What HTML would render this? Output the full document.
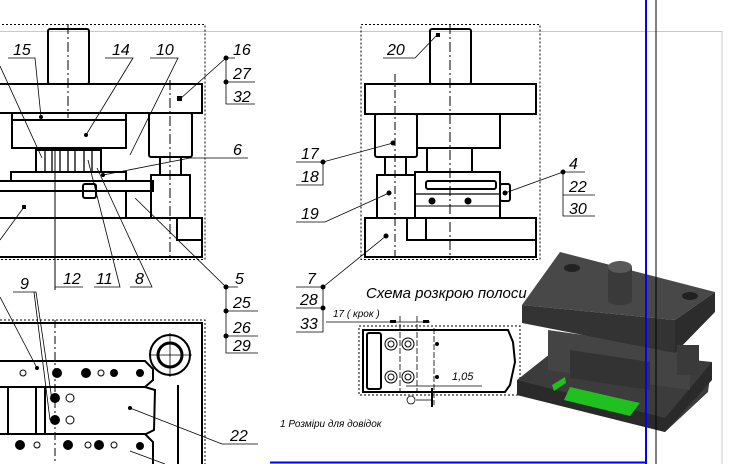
<!DOCTYPE html>
<html><head><meta charset="utf-8"><style>
html,body{margin:0;padding:0;background:#fff;}
svg{display:block;}
text{font-family:"Liberation Sans","DejaVu Sans",sans-serif;font-style:italic;fill:#000;}
</style></head><body>
<svg width="738" height="464" viewBox="0 0 738 464" xmlns="http://www.w3.org/2000/svg">
<rect width="738" height="464" fill="#fff"/>
<!-- sheet gray lines -->
<line x1="0" y1="31.5" x2="722" y2="31.5" stroke="#c8c8c8" stroke-width="1"/>
<line x1="722" y1="31" x2="722" y2="464" stroke="#c8c8c8" stroke-width="1"/>

<g fill="none" stroke="#000">
<!-- LEFT VIEW -->
<rect x="-2" y="24.5" width="207" height="235" stroke-width="1" stroke-dasharray="2,2"/>
<g stroke-width="2">
<rect x="48" y="29" width="41" height="55" rx="2"/>
<rect x="-2" y="84" width="204" height="29"/>
<rect x="12" y="113" width="114" height="35"/>
<line x1="12" y1="120" x2="126" y2="120"/>
<rect x="36" y="150" width="65" height="22"/>
<rect x="149" y="113" width="43" height="44" rx="2"/>
<line x1="160" y1="157" x2="160" y2="175"/><line x1="181" y1="157" x2="181" y2="175"/>
<rect x="11" y="172" width="115" height="9"/>
<rect x="-2" y="181" width="155" height="10"/>
<rect x="-2" y="191" width="128" height="27"/>
<rect x="151" y="175" width="39" height="43"/>
<rect x="-2" y="218" width="204" height="39"/>
<rect x="177" y="218" width="25" height="22"/>
<rect x="83" y="184" width="13" height="14" rx="2"/>
</g>
<g stroke-width="1.3">
<line x1="45" y1="150" x2="45" y2="172"/><line x1="52" y1="150" x2="52" y2="172"/>
<line x1="60" y1="150" x2="60" y2="172"/><line x1="68" y1="150" x2="68" y2="172"/>
<line x1="75" y1="150" x2="75" y2="172"/><line x1="84" y1="150" x2="84" y2="172"/>
<line x1="92" y1="150" x2="92" y2="172"/>
</g>
<line x1="68" y1="24" x2="68" y2="118" stroke-width="1" stroke-dasharray="10,3,2,3"/>
<line x1="170" y1="80" x2="170" y2="260" stroke-width="1" stroke-dasharray="10,3,2,3"/>
<line x1="55" y1="150" x2="55" y2="290" stroke-width="1"/>

<!-- left leaders -->
<g stroke-width="0.8">
<polyline points="8,58 35,58 41,117"/>
<polyline points="105,58 133,58 86,135"/>
<polyline points="150,58 178,58 130,155"/>
<line x1="0" y1="66" x2="42" y2="158"/>
<polyline points="248,158 190,158 103,175"/>
<polyline points="55,287 83,287"/>
<polyline points="94,287 120,287 88,160"/>
<polyline points="130,287 152,287 97,168"/>
<polyline points="235,58 226,58 226,104 255,104"/><line x1="226" y1="82" x2="255" y2="82"/><line x1="226" y1="58" x2="180" y2="99"/>
<line x1="226" y1="287" x2="135" y2="198"/>
<polyline points="238,287 226,287 226,353 258,353"/><line x1="226" y1="311" x2="258" y2="311"/><line x1="226" y1="336" x2="258" y2="336"/>
<line x1="0" y1="240" x2="24" y2="207"/>
<polyline points="13,292 36,292 52,400"/><line x1="34" y1="292" x2="50" y2="420"/>
<line x1="0" y1="297" x2="37" y2="368"/>
<polyline points="258,444 222,444 130,408"/>
<line x1="130" y1="451" x2="165" y2="464"/>
</g>
<g fill="#000" stroke="none">
<circle cx="226" cy="58" r="2.5"/><circle cx="226" cy="82" r="2.5"/>
<circle cx="226" cy="287" r="2.5"/><circle cx="226" cy="311" r="2.5"/><circle cx="226" cy="336" r="2.5"/>
<rect x="177" y="96" width="5" height="5"/><circle cx="86" cy="135" r="2"/><circle cx="41" cy="117" r="2"/>
<circle cx="103" cy="175" r="2"/><rect x="22" y="205" width="4" height="4"/>
<circle cx="130" cy="408" r="2"/><circle cx="37" cy="368" r="2"/>
</g>

<!-- bottom-left plan -->
<polyline points="0,320 205,320 205,464" stroke-width="1" stroke-dasharray="2,2"/>
<polyline points="-2,323 202,323 202,464" stroke-width="2"/>
<circle cx="170" cy="355" r="20" stroke-width="2"/>
<circle cx="170" cy="355" r="12" stroke-width="3"/>
<line x1="150" y1="355" x2="192" y2="355" stroke-width="0.8"/><line x1="170" y1="333" x2="170" y2="377" stroke-width="0.8"/>
<g stroke-width="2">
<polyline points="-2,361 145,361 153,369 153,380 145,387 -2,387"/>
<polyline points="-2,387 -2,387"/>
<polyline points="0,184 0,184"/>
<polyline points="-2,434 145,434 153,442 153,464"/>
<polyline points="36,387 36,434"/><polyline points="45,387 45,434"/>
<line x1="8" y1="387" x2="8" y2="434"/>
<polyline points="178,464 178,385 Q178,370 195,365 202,365"/>
<polyline points="145,387 155,390 154,430 146,434"/>
</g>
<line x1="55" y1="320" x2="55" y2="464" stroke-width="1" stroke-dasharray="8,3,2,3"/>
<g fill="#000" stroke="none">
<circle cx="57" cy="373" r="5"/><circle cx="86" cy="373" r="5"/><circle cx="114" cy="373" r="4"/><circle cx="140" cy="373" r="4"/>
<circle cx="55" cy="398" r="5"/><circle cx="55" cy="420" r="5"/>
<circle cx="20" cy="445" r="5"/><circle cx="68" cy="445" r="5"/><circle cx="99" cy="445" r="5"/><circle cx="140" cy="446" r="4"/>
</g>
<g stroke-width="1">
<circle cx="23" cy="373" r="3"/><circle cx="101" cy="373" r="3"/><circle cx="70" cy="398" r="4"/><circle cx="70" cy="420" r="4"/><circle cx="37" cy="445" r="3"/><circle cx="88" cy="445" r="3"/><circle cx="114" cy="445" r="3"/>
</g>

<!-- RIGHT VIEW -->
<rect x="361" y="24.5" width="179" height="235" stroke-width="1" stroke-dasharray="2,2"/>
<g stroke-width="2">
<rect x="430" y="29" width="41" height="55" rx="2"/>
<rect x="365" y="84" width="171" height="30"/>
<rect x="375" y="114" width="42" height="43" rx="2"/>
<rect x="417" y="114" width="83" height="34"/>
<rect x="427" y="148" width="45" height="24"/>
<line x1="385" y1="157" x2="385" y2="175"/><line x1="406" y1="157" x2="406" y2="175"/>
<rect x="377" y="175" width="38" height="43"/>
<rect x="415" y="172" width="85" height="46"/>
<rect x="426" y="181" width="70" height="8" rx="2"/>
<rect x="500" y="184" width="10" height="17" rx="2"/>
<rect x="365" y="218" width="171" height="39"/>
<rect x="407" y="218" width="129" height="22"/>
<line x1="426" y1="218" x2="426" y2="240"/>
</g>
<line x1="415" y1="194" x2="500" y2="194" stroke-width="1.2"/>
<line x1="415" y1="206" x2="500" y2="206" stroke-width="1"/>
<line x1="450" y1="24" x2="450" y2="260" stroke-width="1" stroke-dasharray="10,3,2,3"/>
<line x1="395" y1="74" x2="395" y2="260" stroke-width="1" stroke-dasharray="8,3,2,3"/>
<g stroke-width="0.8">
<polyline points="383,58 415,58 437,35"/>
<polyline points="296,162 323,162 393,143"/>
<polyline points="296,185 323,185 323,162"/>
<polyline points="296,222 325,222 389,193"/>
<polyline points="585,172 563,172 505,193"/>
<polyline points="563,172 563,216 595,216"/><line x1="563" y1="195" x2="595" y2="195"/>
<polyline points="296,287 323,287 386,236"/>
<polyline points="296,308 323,308"/><polyline points="323,287 323,332 296,332"/>
<line x1="323" y1="320" x2="323" y2="320"/>
</g>
<g fill="#000" stroke="none">
<rect x="436" y="33" width="4" height="4"/><circle cx="393" cy="143" r="2.5"/><circle cx="389" cy="193" r="2.5"/>
<circle cx="323" cy="162" r="2.5"/><circle cx="563" cy="172" r="2.5"/><circle cx="505" cy="193" r="2.5"/>
<circle cx="386" cy="236" r="2.5"/><circle cx="323" cy="287" r="2.5"/><circle cx="323" cy="308" r="2.5"/>
<circle cx="432" cy="201" r="3.5"/><circle cx="468" cy="201" r="3.5"/>
</g>

<!-- strip layout -->
<rect x="359" y="326" width="161" height="69" stroke-width="1" stroke-dasharray="2,2"/>
<path d="M363,330 L508,330 L513,342 L515,362 L510,385 L505,392 L363,392 Z" stroke-width="2"/>
<rect x="367" y="333" width="14" height="56" rx="2" stroke-width="2"/>
<g stroke-width="1"><circle cx="391" cy="344" r="6"/><circle cx="391" cy="377" r="6"/><circle cx="408" cy="344" r="6"/><circle cx="408" cy="377" r="6"/>
<circle cx="391" cy="344" r="3"/><circle cx="391" cy="377" r="3"/><circle cx="408" cy="344" r="3"/><circle cx="408" cy="377" r="3"/></g>
<line x1="400" y1="316" x2="400" y2="392" stroke-width="0.8" stroke-dasharray="6,2"/>
<line x1="417" y1="316" x2="417" y2="392" stroke-width="0.8" stroke-dasharray="6,2"/>
<line x1="434" y1="328" x2="434" y2="405" stroke-width="0.8" stroke-dasharray="6,2"/>
<line x1="326" y1="322" x2="430" y2="322" stroke-width="0.8"/>
<line x1="406" y1="386" x2="482" y2="386" stroke-width="0.8"/>
<line x1="432" y1="388" x2="432" y2="407" stroke-width="2"/>
<line x1="416" y1="400" x2="432" y2="400" stroke-width="0.8"/>
<circle cx="411" cy="400" r="4" stroke-width="0.8"/>
<g fill="#000" stroke="none"><rect x="390" y="320" width="6" height="3"/><rect x="423" y="320" width="6" height="3"/><circle cx="437" cy="344" r="2"/><circle cx="437" cy="377" r="2"/></g>
</g>

<!-- labels -->
<g font-size="16">
<text x="13" y="55">15</text><text x="112" y="55">14</text><text x="156" y="55">10</text>
<text x="233" y="55">16</text><text x="233" y="79">27</text><text x="233" y="102">32</text>
<text x="233" y="155">6</text>
<text x="63" y="284">12</text><text x="96" y="284">11</text><text x="135" y="284">8</text>
<text x="20" y="289">9</text>
<text x="235" y="284">5</text><text x="233" y="308">25</text><text x="233" y="333">26</text><text x="233" y="351">29</text>
<text x="230" y="441">22</text>
<text x="387" y="55">20</text>
<text x="301" y="159">17</text><text x="301" y="182">18</text><text x="301" y="219">19</text>
<text x="569" y="169">4</text><text x="569" y="192">22</text><text x="569" y="214">30</text>
<text x="307" y="284">7</text><text x="300" y="305">28</text><text x="300" y="329">33</text>
</g>
<text x="366" y="298" font-size="15">Схема розкрою полоси</text>
<text x="333" y="317" font-size="10">17 ( крок )</text>
<text x="452" y="380" font-size="11">1,05</text>
<text x="280" y="427" font-size="10">1 Розміри для довідок</text>

<!-- 3D render -->
<g stroke="none">
<polygon points="517,380 560,346 712,362 708,392 665,432 517,395" fill="#3c3c3c"/>
<polygon points="517,380 665,418 712,362 712,380 665,432 517,395" fill="#2a2a2a"/>
<polygon points="548,330 690,350 690,390 548,370" fill="#444"/>
<polygon points="570,350 650,362 650,390 570,378" fill="#333"/>
<polygon points="560,252 715,292 675,320 522,305" fill="#484848"/>
<polygon points="522,305 675,320 675,353 522,323" fill="#333"/>
<polygon points="675,320 715,292 715,312 675,353" fill="#2c2c2c"/>
<ellipse cx="620" cy="268" rx="12" ry="6" fill="#555"/>
<rect x="608" y="268" width="24" height="33" fill="#3a3a3a"/>
<ellipse cx="620" cy="300" rx="12" ry="5" fill="#3a3a3a"/>
<ellipse cx="620" cy="267" rx="12" ry="6" fill="#5a5a5a"/>
<ellipse cx="572" cy="268" rx="8" ry="4" fill="#222"/>
<ellipse cx="690" cy="296" rx="8" ry="4" fill="#222"/>
<rect x="677" y="345" width="22" height="30" fill="#3a3a3a"/>
<polygon points="570,387 640,403 630,416 564,400" fill="#1fc01f"/>
<polygon points="552,385 565,377 566,383 554,391" fill="#1fc01f"/>
</g>

<!-- frame lines -->
<line x1="646" y1="0" x2="646" y2="464" stroke="#0000ff" stroke-width="2"/>
<line x1="656" y1="0" x2="656" y2="464" stroke="#000" stroke-width="1"/>
<line x1="270" y1="462.5" x2="646" y2="462.5" stroke="#0000ff" stroke-width="2"/>
</svg>
</body></html>
